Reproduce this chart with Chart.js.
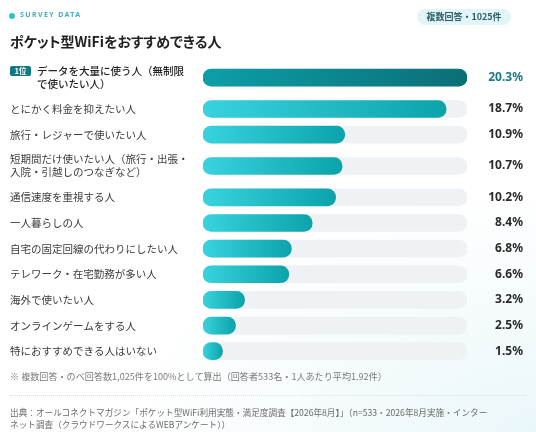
<!DOCTYPE html>
<html><head><meta charset="utf-8">
<script src="https://cdn.jsdelivr.net/npm/chart.js@4.4.1/dist/chart.umd.min.js"></script>
<style>
html,body{margin:0;padding:0;}
body{width:536px;height:432px;overflow:hidden;position:relative;font-family:"Noto Sans CJK JP","Noto Sans",sans-serif;background:#fff;}
#bg{position:absolute;left:0;top:0;width:536px;height:432px;background:radial-gradient(ellipse 75% 55% at 100% 100%, #eaf7fa 0%, rgba(255,255,255,0) 100%);}
#c{position:absolute;left:0;top:0;}
.dot{position:absolute;left:9px;top:13px;width:6px;height:6px;border-radius:50%;background:#2cc1cf;}
.kicker{position:absolute;left:20px;top:9px;font-family:"Noto Sans",sans-serif;font-weight:700;font-size:7px;letter-spacing:1.4px;color:#3fb0b8;line-height:12px;}
.pill{position:absolute;left:417px;top:9px;width:94px;height:16px;border-radius:8px;background:#e2f5f8;color:#2f5e64;font-weight:700;font-size:9px;line-height:16px;text-align:center;}
.title{position:absolute;left:10px;top:31px;font-weight:700;font-size:14px;line-height:20px;color:#222;font-feature-settings:"palt";}
.note{position:absolute;left:10px;top:369px;font-size:9.1px;line-height:14px;color:#7a7a7a;white-space:nowrap;}
.sep{position:absolute;left:10px;width:516px;top:395px;border-top:1px dotted #d9dfe2;}
.src{position:absolute;left:10px;top:406px;font-size:8.65px;line-height:12px;color:#6b6b6b;white-space:nowrap;}
</style></head>
<body>
<div id="bg"></div>
<canvas id="c" width="536" height="432"></canvas>
<div class="dot"></div>
<div class="kicker">SURVEY DATA</div>
<div class="pill">複数回答・1025件</div>
<div class="title">ポケット型WiFiをおすすめできる人</div>
<div class="note">※ 複数回答・のべ回答数1,025件を100%として算出（回答者533名・1人あたり平均1.92件）</div>
<div class="sep"></div>
<div class="src">出典：オールコネクトマガジン「ポケット型WiFi利用実態・満足度調査【2026年8月】」（n=533・2026年8月実施・インター<br>ネット調査（クラウドワークスによるWEBアンケート））</div>
<script>
const categories = [
  ["データを大量に使う人（無制限", "で使いたい人）"],
  ["とにかく料金を抑えたい人"],
  ["旅行・レジャーで使いたい人"],
  ["短期間だけ使いたい人（旅行・出張・", "入院・引越しのつなぎなど）"],
  ["通信速度を重視する人"],
  ["一人暮らしの人"],
  ["自宅の固定回線の代わりにしたい人"],
  ["テレワーク・在宅勤務が多い人"],
  ["海外で使いたい人"],
  ["オンラインゲームをする人"],
  ["特におすすめできる人はいない"]
];
const values = [20.3, 18.7, 10.9, 10.7, 10.2, 8.4, 6.8, 6.6, 3.2, 2.5, 1.5];
const valueLabels = values.map(v => v.toFixed(1) + "%");
const rankBadge = "1位";

// row layout derived from label line counts
const rowSize = categories.map(l => l.length > 1 ? 1.45 : 1);
const centers = [];
let acc = 0;
rowSize.forEach(s => { centers.push(acc + s / 2); acc += s; });
const totalRows = acc;
const maxVal = Math.max(...values);

const labelPlugin = {
  id: 'rowLabels',
  afterDatasetsDraw(chart) {
    const c = chart.ctx, ys = chart.scales.y;
    c.save();
    c.textBaseline = 'middle';
    categories.forEach((lines, i) => {
      const cy = ys.getPixelForValue(centers[i]);
      let x = 10;
      const lh = 13;
      const y0 = cy - (lines.length - 1) * lh / 2;
      if (i === 0) {
        c.fillStyle = '#0f7a82';
        c.beginPath();
        c.roundRect(10, y0 - 5, 21, 10, 2);
        c.fill();
        c.fillStyle = '#fff';
        c.font = '700 7.5px "Noto Sans CJK JP"';
        c.textAlign = 'center';
        c.fillText(rankBadge, 20.5, y0 + 0.5);
        x = 37;
      }
      c.textAlign = 'left';
      c.fillStyle = i === 0 ? '#222' : '#3c3c3c';
      c.font = (i === 0 ? '500 ' : '400 ') + '10.5px "Noto Sans CJK JP"';
      lines.forEach((t, j) => c.fillText(t, x, y0 + j * lh));
      c.textAlign = 'right';
      c.fillStyle = i === 0 ? '#1a7c83' : '#2a2a2a';
      c.font = '700 12px "Noto Sans"';
      c.fillText(valueLabels[i], 523, cy);
    });
    c.restore();
  }
};

new Chart(document.getElementById('c'), {
  type: 'bar',
  data: {
    datasets: [
      {
        label: 'track',
        data: centers.map(cy => ({ x: maxVal, y: cy })),
        backgroundColor: '#eef2f4',
        barThickness: 17,
        borderRadius: 9,
        borderSkipped: false,
        grouped: false,
        order: 2
      },
      {
        label: 'value',
        data: values.map((v, i) => ({ x: v, y: centers[i] })),
        backgroundColor: (ctx) => {
          const chart = ctx.chart;
          if (!chart.chartArea || ctx.type !== 'data') return '#1fbac4';
          const xs = chart.scales.x;
          const x0 = xs.getPixelForValue(0);
          const x1 = xs.getPixelForValue(values[ctx.dataIndex]);
          const g = chart.ctx.createLinearGradient(x0, 0, x1, 0);
          if (ctx.dataIndex === 0) { g.addColorStop(0, '#0c9fa8'); g.addColorStop(1, '#0b6e77'); }
          else { g.addColorStop(0, '#38d3de'); g.addColorStop(1, '#0ca3ab'); }
          return g;
        },
        barThickness: 17,
        borderRadius: 9,
        borderSkipped: false,
        grouped: false,
        order: 1
      }
    ]
  },
  options: {
    indexAxis: 'y',
    responsive: false,
    animation: false,
    layout: { padding: { left: 203, right: 69, top: 59, bottom: 68 } },
    scales: {
      x: { type: 'linear', min: 0, max: maxVal, display: false, offset: false },
      y: { type: 'linear', min: 0, max: totalRows, reverse: true, display: false, offset: false }
    },
    plugins: { legend: { display: false }, tooltip: { enabled: false } }
  },
  plugins: [labelPlugin]
});
</script>
</body></html>
